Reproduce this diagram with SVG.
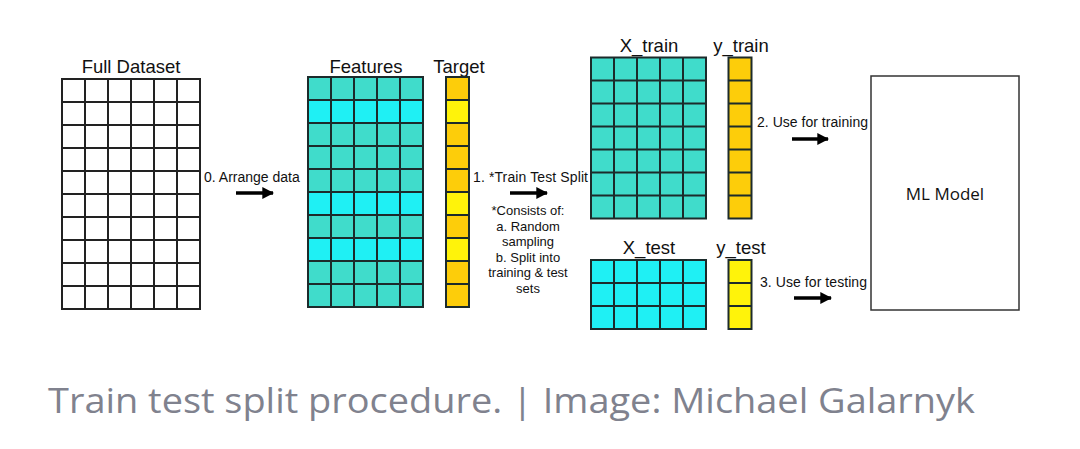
<svg xmlns="http://www.w3.org/2000/svg" width="1080" height="449" viewBox="0 0 1080 449">
<style>
.title{font-family:"Liberation Sans",Arial,sans-serif;font-size:18.5px;fill:#111;text-anchor:middle}
.lbl{font-family:"Liberation Sans",Arial,sans-serif;font-size:14px;fill:#111}
.note{font-family:"Liberation Sans",Arial,sans-serif;font-size:13px;fill:#111;text-anchor:middle}
.grid{fill:none;stroke:#1c2b2b;stroke-width:2}
.plain{fill:none;stroke:#222;stroke-width:2}
.teal{fill:#40dccb}
.cyan{fill:#1ff0f4}
.gold{fill:#fdcd0a}
.yel{fill:#fff30a}
.arrow{stroke:#000;stroke-width:3.5;fill:none;marker-end:url(#ah)}
.cap{font-family:"Open Sans","Noto Sans",sans-serif;font-size:34px;fill:#80828e}
</style>
<defs>
<marker id="ah" viewBox="0 0 10 10" refX="9" refY="5" markerWidth="3.4" markerHeight="3.4" orient="auto" markerUnits="strokeWidth">
<path d="M0,0 L10,5 L0,10 Z" fill="#000"/>
</marker>
</defs>
<rect width="1080" height="449" fill="#fff"/>

<g id="full-dataset">
<text class="title" x="131" y="73">Full Dataset</text>
<rect x="62" y="79" width="138" height="230" fill="#fff"/>
<path class="plain" d="M62,79H200V309H62Z M85,79V309 M108,79V309 M131,79V309 M154,79V309 M177,79V309 M62,102H200 M62,125H200 M62,148H200 M62,171H200 M62,194H200 M62,217H200 M62,240H200 M62,263H200 M62,286H200"/>
</g>

<g id="features">
<text class="title" x="366" y="72.5">Features</text>
<rect class="teal" x="308" y="77" width="115" height="230"/>
<rect class="cyan" x="308" y="100" width="115" height="23"/>
<rect class="cyan" x="308" y="192" width="115" height="23"/>
<rect class="cyan" x="308" y="238" width="115" height="23"/>
<path class="grid" d="M308,77H423V307H308Z M331,77V307 M354,77V307 M377,77V307 M400,77V307 M308,100H423 M308,123H423 M308,146H423 M308,169H423 M308,192H423 M308,215H423 M308,238H423 M308,261H423 M308,284H423"/>
</g>

<g id="target">
<text class="title" x="459" y="72.5">Target</text>
<rect class="gold" x="446" y="77" width="23" height="230"/>
<rect class="yel" x="446" y="100" width="23" height="23"/>
<rect class="yel" x="446" y="192" width="23" height="23"/>
<rect class="yel" x="446" y="238" width="23" height="23"/>
<path class="grid" d="M446,77H469V307H446Z M446,100H469 M446,123H469 M446,146H469 M446,169H469 M446,192H469 M446,215H469 M446,238H469 M446,261H469 M446,284H469"/>
</g>

<g id="x-train">
<text class="title" x="649" y="51.5">X_train</text>
<rect class="teal" x="591" y="57.5" width="115" height="161"/>
<path class="grid" d="M591,57.5H706V218.5H591Z M614,57.5V218.5 M637,57.5V218.5 M660,57.5V218.5 M683,57.5V218.5 M591,80.5H706 M591,103.5H706 M591,126.5H706 M591,149.5H706 M591,172.5H706 M591,195.5H706"/>
</g>

<g id="y-train">
<text class="title" x="741" y="51.5">y_train</text>
<rect class="gold" x="728.5" y="57.5" width="23" height="161"/>
<path class="grid" d="M728.5,57.5H751.5V218.5H728.5Z M728.5,80.5H751.5 M728.5,103.5H751.5 M728.5,126.5H751.5 M728.5,149.5H751.5 M728.5,172.5H751.5 M728.5,195.5H751.5"/>
</g>

<g id="x-test">
<text class="title" x="649" y="254">X_test</text>
<rect class="cyan" x="591" y="260" width="115" height="69"/>
<path class="grid" d="M591,260H706V329H591Z M614,260V329 M637,260V329 M660,260V329 M683,260V329 M591,283H706 M591,306H706"/>
</g>

<g id="y-test">
<text class="title" x="741" y="254">y_test</text>
<rect class="yel" x="728.5" y="260" width="23" height="69"/>
<path class="grid" d="M728.5,260H751.5V329H728.5Z M728.5,283H751.5 M728.5,306H751.5"/>
</g>

<g id="ml-model">
<rect x="871" y="76" width="148" height="234" fill="#fff" stroke="#333" stroke-width="1.5"/>
<text x="945" y="200" text-anchor="middle" style="font-family:'Open Sans','Noto Sans',sans-serif;font-size:17px;fill:#111">ML Model</text>
</g>

<g id="connectors">
<text class="lbl" x="204" y="182">0. Arrange data</text>
<line class="arrow" x1="236" y1="193" x2="273" y2="193"/>
<text class="lbl" x="473" y="182" textLength="115">1. *Train Test Split</text>
<line class="arrow" x1="510" y1="193" x2="547" y2="193"/>
<text class="note" x="528" y="215">*Consists of:</text>
<text class="note" x="528" y="230.5">a. Random</text>
<text class="note" x="528" y="246">sampling</text>
<text class="note" x="528" y="261.5">b. Split into</text>
<text class="note" x="528" y="277">training &amp; test</text>
<text class="note" x="528" y="292.5">sets</text>
<text class="lbl" x="757" y="127" textLength="111">2. Use for training</text>
<line class="arrow" x1="792" y1="139" x2="828" y2="139"/>
<text class="lbl" x="760" y="287" textLength="107">3. Use for testing</text>
<line class="arrow" x1="794" y1="298" x2="831" y2="298"/>
</g>

<text class="cap" x="48" y="413" textLength="927" lengthAdjust="spacingAndGlyphs">Train test split procedure. | Image: Michael Galarnyk</text>
</svg>
